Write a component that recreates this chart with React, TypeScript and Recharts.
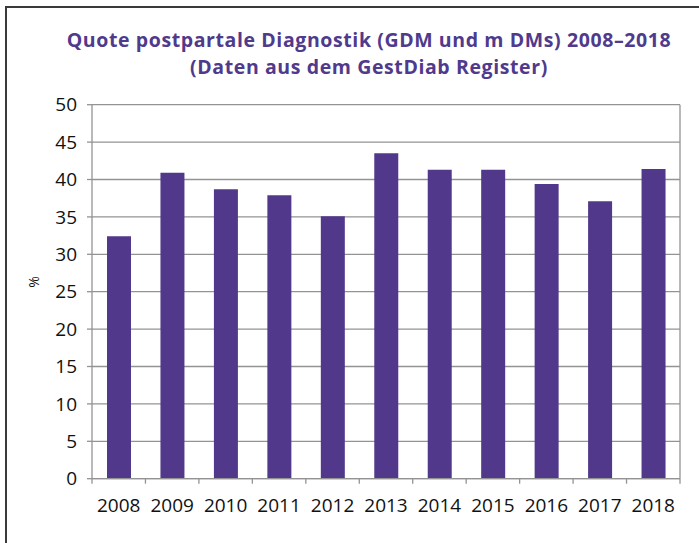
import React from 'react';
import { BarChart, Bar, XAxis, YAxis, CartesianGrid } from 'recharts';

const years = ['2008', '2009', '2010', '2011', '2012', '2013', '2014', '2015', '2016', '2017', '2018'];
const quote = [32.4, 40.9, 38.7, 37.9, 35.1, 43.5, 41.3, 41.3, 39.4, 37.1, 41.4];
const yTicks = [0, 5, 10, 15, 20, 25, 30, 35, 40, 45, 50];
const titleLines = ['Quote postpartale Diagnostik (GDM und m DMs) 2008\u20132018', '(Daten aus dem GestDiab Register)'];

const data = years.map((y, i) => ({ year: y, value: quote[i] }));

const PURPLE = '#52388A';
const GRID = '#939393';
const FONT = '"Open Sans", sans-serif';

const XTick = (props: any) => {
  const { x, y, payload, index, visibleTicksCount } = props;
  const off = payload.offset || 0;
  return (
    <g>
      <line x1={x - off} x2={x - off} y1={y - 8} y2={y - 3} stroke={GRID} strokeWidth={1.3} />
      {index === visibleTicksCount - 1 && (
        <line x1={x + off} x2={x + off} y1={y - 8} y2={y - 3} stroke={GRID} strokeWidth={1.3} />
      )}
      <text x={x} y={y + 25} textAnchor="middle" fontFamily={FONT} fontSize={19} fill="#111">
        {payload.value}
      </text>
    </g>
  );
};

export default function App() {
  return (
    <div style={{ position: 'absolute', left: 0, top: 0, width: 699, height: 543, overflow: 'hidden', background: '#fff' }}>
      <div style={{ position: 'absolute', left: 5, top: 6, width: 900, height: 900, border: '2px solid #3a3a3a' }} />
      <div
        style={{
          position: 'absolute',
          left: 0,
          width: 738,
          top: 27.3,
          textAlign: 'center',
          fontFamily: FONT,
          fontWeight: 700,
          fontSize: 19.5,
          letterSpacing: 0.6,
          lineHeight: '26.6px',
          color: '#4F3A8C',
        }}
      >
        <div>{titleLines[0]}</div>
        <div>{titleLines[1]}</div>
      </div>
      <div
        style={{
          position: 'absolute',
          left: 26,
          top: 272,
          width: 16,
          height: 20,
          transform: 'rotate(-90deg)',
          fontFamily: FONT,
          fontSize: 14,
          color: '#111',
          textAlign: 'center',
          lineHeight: '20px',
        }}
      >
        %
      </div>
      <div style={{ position: 'absolute', left: 0, top: 0 }}>
        <BarChart width={699} height={543} data={data} margin={{ top: 104.7, right: 19, left: 0, bottom: 34.3 }}>
          <CartesianGrid
            horizontal
            vertical
            stroke={GRID}
            strokeWidth={1.3}
            verticalCoordinatesGenerator={({ offset }: any) => [offset.left + offset.width]}
          />
          <XAxis
            dataKey="year"
            height={30}
            axisLine={{ stroke: GRID, strokeWidth: 1.3 }}
            tickLine={false}
            tick={<XTick />}
            interval={0}
          />
          <YAxis
            width={92}
            domain={[0, 50]}
            ticks={yTicks}
            interval={0}
            axisLine={{ stroke: GRID, strokeWidth: 1.3 }}
            tickLine={{ stroke: GRID, strokeWidth: 1.3 }}
            tickSize={5}
            tickMargin={10}
            tick={{ fontFamily: FONT, fontSize: 19, fill: '#111' }}
          />
          <Bar dataKey="value" fill={PURPLE} barSize={24} isAnimationActive={false} />
        </BarChart>
      </div>
    </div>
  );
}
